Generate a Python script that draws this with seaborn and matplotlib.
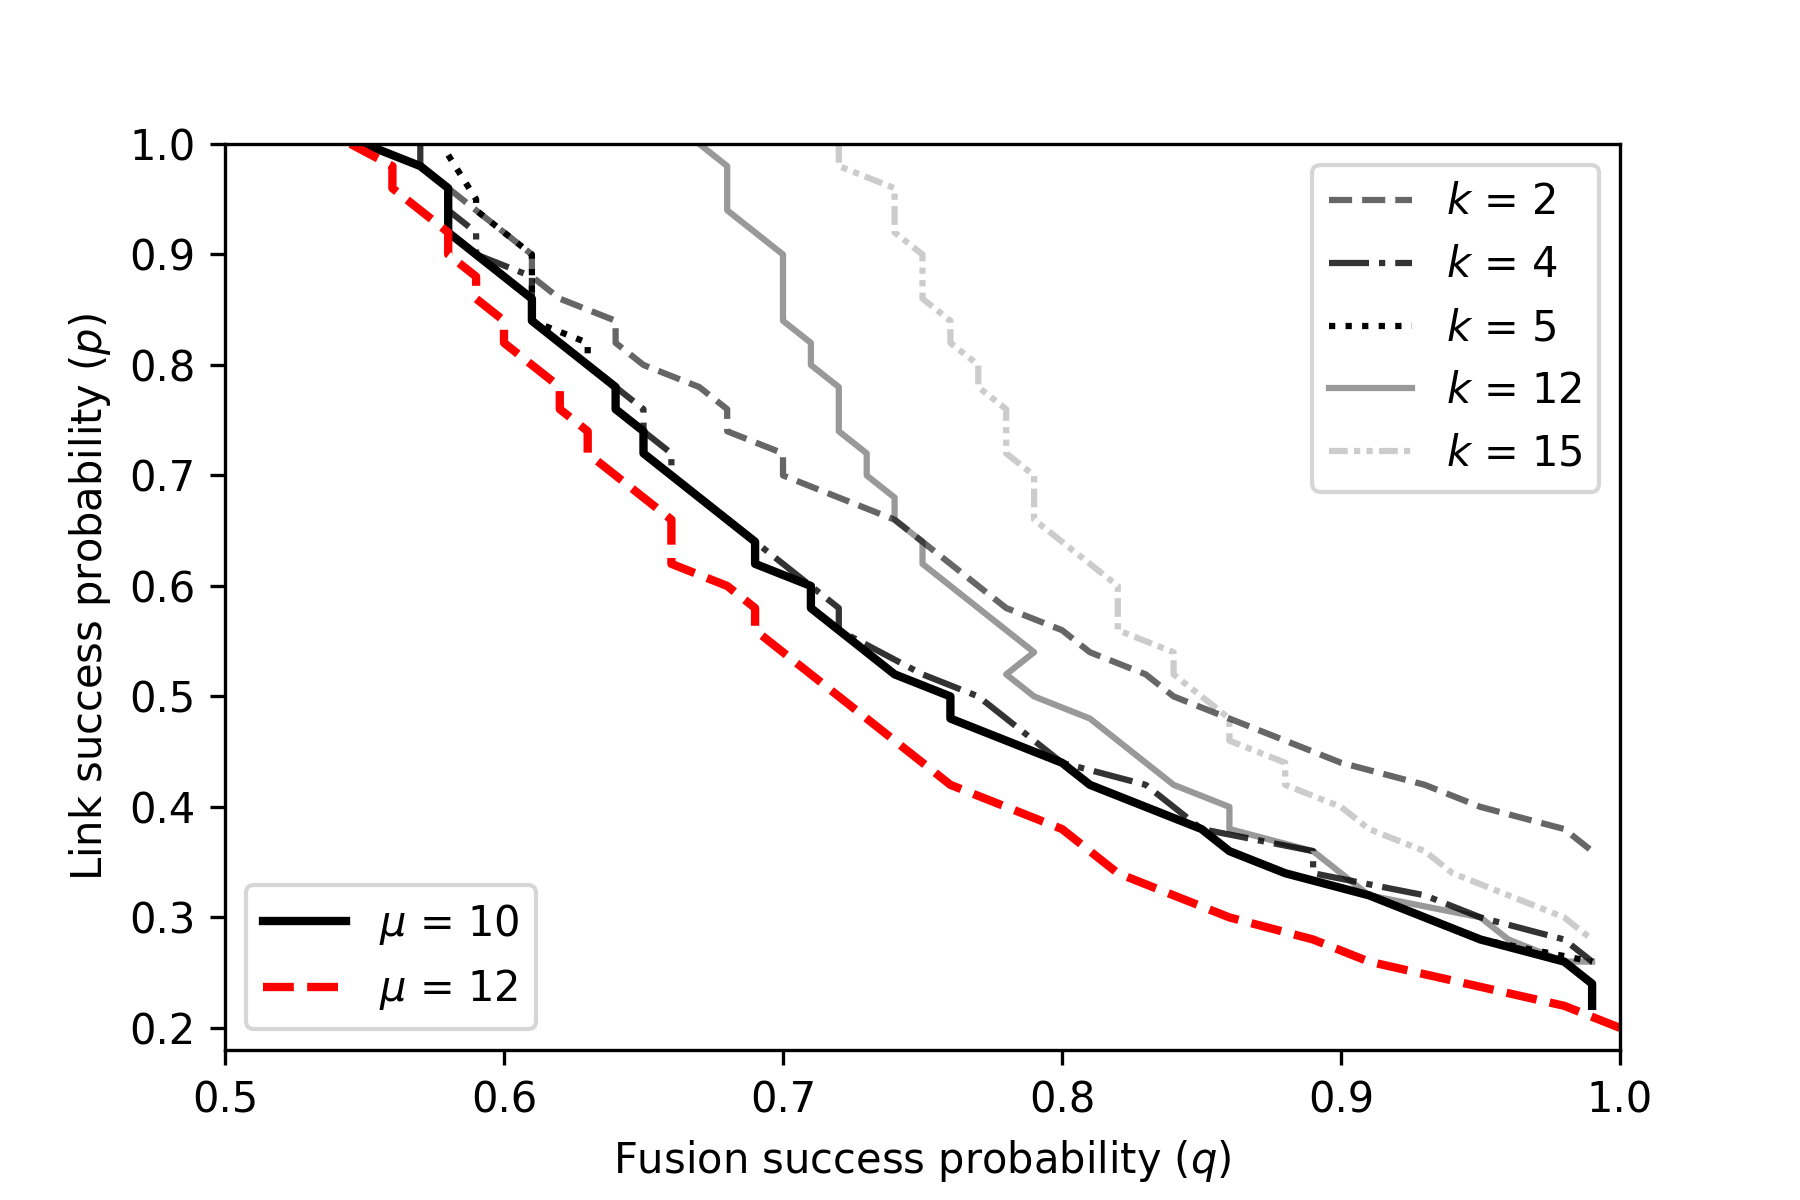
import matplotlib
matplotlib.use('Agg')
import matplotlib.pyplot as plt
import pandas as pd
import seaborn as sns

# k curves (fusion success q, link success p)
k2_q = [0.58, 0.59, 0.61, 0.61, 0.62, 0.64, 0.64, 0.65, 0.67, 0.68, 0.68, 0.70, 0.70, 0.74,
        0.78, 0.80, 0.81, 0.83, 0.84, 0.86, 0.88, 0.90, 0.93, 0.95, 0.98, 0.99]
k2_p = [0.96, 0.94, 0.90, 0.88, 0.86, 0.84, 0.82, 0.80, 0.78, 0.76, 0.74, 0.72, 0.70, 0.66,
        0.58, 0.56, 0.54, 0.52, 0.50, 0.48, 0.46, 0.44, 0.42, 0.40, 0.38, 0.36]

k4_q = [0.57, 0.57, 0.58, 0.58, 0.59, 0.59, 0.61, 0.61, 0.64, 0.65, 0.65, 0.66, 0.66, 0.69,
        0.71, 0.72, 0.72, 0.75, 0.77, 0.80, 0.83, 0.85, 0.89, 0.89, 0.93, 0.95, 0.98, 0.99]
k4_p = [1.00, 0.98, 0.96, 0.94, 0.92, 0.90, 0.88, 0.84, 0.78, 0.76, 0.74, 0.72, 0.70, 0.64,
        0.60, 0.58, 0.56, 0.52, 0.50, 0.44, 0.42, 0.38, 0.36, 0.34, 0.32, 0.30, 0.28, 0.26]

k5_q = [0.58, 0.59, 0.59, 0.61, 0.61, 0.63, 0.63, 0.64, 0.64, 0.65, 0.65, 0.69, 0.69, 0.71,
        0.71, 0.74, 0.76, 0.76, 0.80, 0.81, 0.85, 0.86, 0.88, 0.91, 0.95, 0.99]
k5_p = [0.99, 0.95, 0.94, 0.90, 0.84, 0.82, 0.80, 0.78, 0.76, 0.74, 0.72, 0.64, 0.62, 0.60,
        0.58, 0.52, 0.50, 0.48, 0.44, 0.42, 0.38, 0.36, 0.34, 0.32, 0.28, 0.26]

k12_q = [0.67, 0.68, 0.68, 0.70, 0.70, 0.71, 0.71, 0.72, 0.72, 0.73, 0.73, 0.74, 0.74, 0.75,
         0.75, 0.79, 0.78, 0.79, 0.81, 0.84, 0.86, 0.86, 0.89, 0.91, 0.95, 0.96, 0.98, 0.99]
k12_p = [1.00, 0.98, 0.94, 0.90, 0.84, 0.82, 0.80, 0.78, 0.74, 0.72, 0.70, 0.68, 0.66, 0.64,
         0.62, 0.54, 0.52, 0.50, 0.48, 0.42, 0.40, 0.38, 0.36, 0.32, 0.30, 0.28, 0.26, 0.26]

k15_q = [0.72, 0.72, 0.74, 0.74, 0.75, 0.75, 0.76, 0.76, 0.77, 0.77, 0.78, 0.78, 0.79, 0.79,
         0.82, 0.82, 0.84, 0.84, 0.86, 0.86, 0.88, 0.88, 0.90, 0.91, 0.93, 0.94, 0.98, 0.99]
k15_p = [1.00, 0.98, 0.96, 0.92, 0.90, 0.86, 0.84, 0.82, 0.80, 0.78, 0.76, 0.72, 0.70, 0.66,
         0.60, 0.56, 0.54, 0.52, 0.48, 0.46, 0.44, 0.42, 0.40, 0.38, 0.36, 0.34, 0.30, 0.28]

# mu curves
mu10_q = [0.55, 0.57, 0.58, 0.58, 0.61, 0.61, 0.64, 0.64, 0.65, 0.65, 0.69, 0.69, 0.71, 0.71,
          0.74, 0.76, 0.76, 0.80, 0.81, 0.85, 0.86, 0.88, 0.91, 0.95, 0.98, 0.99, 0.99]
mu10_p = [1.00, 0.98, 0.96, 0.92, 0.86, 0.84, 0.78, 0.76, 0.74, 0.72, 0.64, 0.62, 0.60, 0.58,
          0.52, 0.50, 0.48, 0.44, 0.42, 0.38, 0.36, 0.34, 0.32, 0.28, 0.26, 0.24, 0.22]

mu12_q = [0.545, 0.56, 0.56, 0.58, 0.58, 0.59, 0.59, 0.60, 0.60, 0.62, 0.62, 0.63, 0.63, 0.66,
          0.66, 0.68, 0.69, 0.69, 0.76, 0.80, 0.82, 0.86, 0.89, 0.91, 0.98, 1.00]
mu12_p = [1.00, 0.98, 0.96, 0.92, 0.90, 0.88, 0.86, 0.84, 0.82, 0.78, 0.76, 0.74, 0.72, 0.66,
          0.62, 0.60, 0.58, 0.56, 0.42, 0.38, 0.34, 0.30, 0.28, 0.26, 0.22, 0.20]

k_labels = [r'$k$ = 2', r'$k$ = 4', r'$k$ = 5', r'$k$ = 12', r'$k$ = 15']
mu_labels = [r'$\mu$ = 10', r'$\mu$ = 12']


def draw_curve(ax, q, p, **kws):
    df = pd.DataFrame({'q': q, 'p': p})
    sns.lineplot(data=df, x='q', y='p', sort=False, estimator=None, ax=ax, **kws)
    return ax.lines[-1]


fig, ax = plt.subplots(figsize=(6, 4), dpi=300)
fig.subplots_adjust(bottom=0.125)

k_styles = [
    dict(ls='--', alpha=0.6),
    dict(ls='-.', alpha=0.8),
    dict(ls=':', alpha=1.0),
    dict(ls='-', alpha=0.4),
    dict(ls=(0, (3, 1, 1, 1, 1, 1)), alpha=0.2),
]
k_data = [(k2_q, k2_p), (k4_q, k4_p), (k5_q, k5_p), (k12_q, k12_p), (k15_q, k15_p)]

k_handles = []
for (q, p), st in zip(k_data, k_styles):
    k_handles.append(draw_curve(ax, q, p, color='k', lw=1.5, **st))

mu_handles = [
    draw_curve(ax, mu10_q, mu10_p, color='k', lw=2, ls='-'),
    draw_curve(ax, mu12_q, mu12_p, color='red', lw=2, ls='--'),
]

ax.set_xlim(0.5, 1.0)
ax.set_ylim(0.18, 1.0)
ax.set_xticks([0.5, 0.6, 0.7, 0.8, 0.9, 1.0])
ax.set_yticks([0.2, 0.3, 0.4, 0.5, 0.6, 0.7, 0.8, 0.9, 1.0])
ax.set_xlabel(r'Fusion success probability ($q$)')
ax.set_ylabel(r'Link success probability ($p$)')

leg1 = ax.legend(k_handles, k_labels, loc='upper right')
ax.add_artist(leg1)
ax.legend(mu_handles, mu_labels, loc='lower left')

fig.savefig('out.png', dpi=300)
